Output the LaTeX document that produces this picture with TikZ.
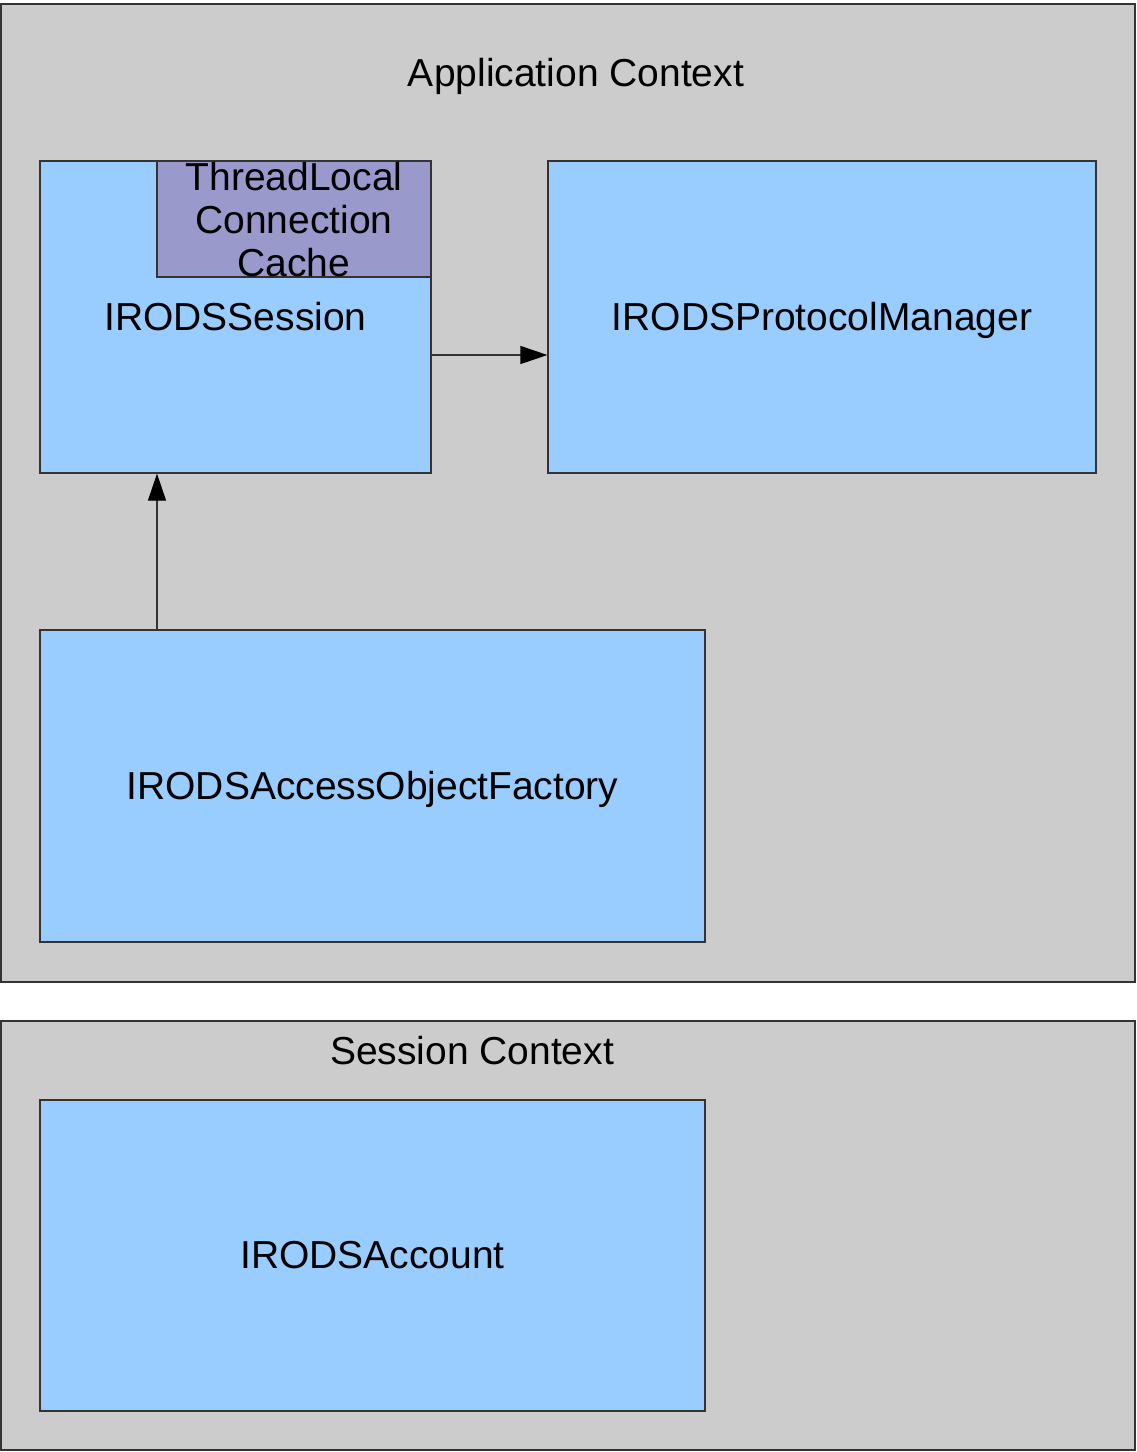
\documentclass[tikz,border=0pt]{standalone}
\usepackage{fontspec}
\setmainfont{Liberation Sans}
\usetikzlibrary{arrows.meta}
\definecolor{ctxgray}{HTML}{CCCCCC}
\definecolor{compblue}{HTML}{99CCFF}
\definecolor{cachepurple}{HTML}{9999CC}
\definecolor{edge}{HTML}{333333}
\tikzset{
  ctxbox/.style={fill=ctxgray, draw=edge, line width=1.3pt},
  compbox/.style={fill=compblue, draw=edge, line width=1.2pt},
  cachebox/.style={fill=cachepurple, draw=edge, line width=1.2pt},
  lbl/.style={font=\fontsize{39pt}{43pt}\selectfont, inner sep=0pt, anchor=base},
  conn/.style={draw=black!80, line width=1.2pt, -{Triangle[length=27pt,width=18pt,color=black,fill=black]}}
}
\begin{document}
\begin{tikzpicture}[x=1pt,y=-1pt]
\useasboundingbox (0,0) rectangle (1136,1452);
\fill[white] (0,0) rectangle (1136,1452);
% contexts
\draw[ctxbox] (1,4) rectangle (1135,982);
\node[lbl] (appctx) at (576,86) {Application Context};
\draw[ctxbox] (1,1021) rectangle (1135,1450);
\node[lbl] (sessctx) at (472,1064) {Session Context};
% components
\node[compbox, minimum width=391pt, minimum height=312pt, inner sep=0pt] (session) at (235.5,317) {};
\node[lbl] at (235.5,330) {IRODSSession};
\node[cachebox, minimum width=274pt, minimum height=116pt, inner sep=0pt] (cache) at (294,219) {};
\node[font=\fontsize{39pt}{43pt}\selectfont, align=center, inner sep=0pt] (cachetxt) at (294,220) {ThreadLocal\\Connection\\Cache};
\node[compbox, minimum width=548pt, minimum height=312pt, inner sep=0pt] (proto) at (822,317) {};
\node[lbl] at (822,330) {IRODSProtocolManager};
\node[compbox, minimum width=665pt, minimum height=312pt, inner sep=0pt] (factory) at (372.5,786) {};
\node[lbl] at (372.5,799) {IRODSAccessObjectFactory};
\node[compbox, minimum width=665pt, minimum height=311pt, inner sep=0pt] (account) at (372.5,1255.5) {};
\node[lbl] at (372.5,1268) {IRODSAccount};
% connectors
\coordinate (s1) at (session.east |- 0,355);
\coordinate (p1) at (proto.west |- 0,355);
\draw[conn] (s1) -- (p1);
\draw[conn] (factory.north -| 157,0) -- (session.south -| 157,0);
\end{tikzpicture}
\end{document}
